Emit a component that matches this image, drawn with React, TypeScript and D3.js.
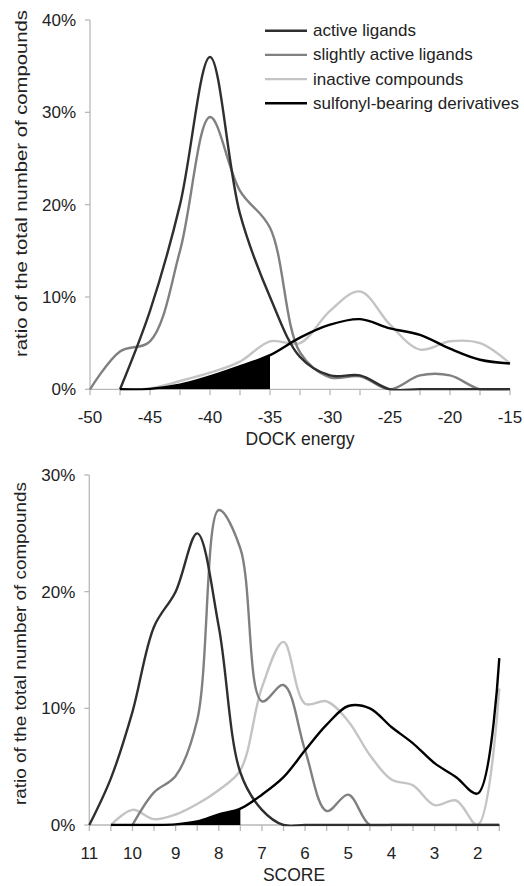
import React from 'react';
import * as d3 from 'd3';

// ---------- DATA ----------
const dockBins = [-50, -47.5, -45, -42.5, -40, -37.5, -35, -32.5, -30, -27.5, -25, -22.5, -20, -17.5, -15];
const dockActive = [null, 0, 8.5, 20, 36, 19, 10, 3.5, 1.5, 1.5, 0, 0, 0, 0, 0];
const dockSlightly = [0, 4.1, 5.2, 15, 29.5, 21.5, 17.5, 4, 1.3, 1.4, 0, 1.5, 1.5, 0, 0];
const dockInactive = [null, 0, 0.1, 0.9, 1.8, 3.0, 5.2, 5.0, 8.5, 10.6, 7.0, 4.3, 5.2, 5.0, 2.8];
const dockSulfonyl = [null, 0, 0.05, 0.5, 1.4, 2.5, 3.7, 5.6, 7.0, 7.6, 6.6, 5.9, 4.4, 3.2, 2.8];

const scoreBins = [11, 10.5, 10, 9.5, 9, 8.5, 8, 7.5, 7, 6.5, 6, 5.5, 5, 4.5, 4, 3.5, 3, 2.5, 2, 1.5];
const scoreActive = [0, 4.0, 9.7, 17, 20, 25, 17, 4.5, 1.3, 0, 0, 0, 0, 0, 0, 0, 0, 0, 0, 0];
const scoreSlightly = [null, null, 0, 2.8, 4.2, 9.0, 27, 23.7, 10.6, 12, 6.4, 1.2, 2.6, 0, 0, 0, 0, 0, 0, 0];
const scoreInactive = [null, 0, 1.3, 0.5, 0.9, 1.8, 3.0, 4.7, 11.8, 15.7, 10.4, 10.6, 8.9, 6.0, 3.9, 3.4, 1.7, 2.1, 0, 11.7];
const scoreSulfonyl = [null, 0, 0, 0, 0.05, 0.3, 0.9, 1.4, 2.6, 4.1, 6.4, 8.6, 10.2, 10.0, 8.4, 7.0, 5.3, 4.1, 2.7, 14.3];

const legendLabels = ['active ligands', 'slightly active ligands', 'inactive compounds', 'sulfonyl-bearing derivatives'];
const dockTickLabels = [-50, -45, -40, -35, -30, -25, -20, -15];
const scoreTickLabels = [11, 10, 9, 8, 7, 6, 5, 4, 3, 2];
const dockPctTicks = [0, 10, 20, 30, 40];
const scorePctTicks = [0, 10, 20, 30];
const dockFillLimit = -35;
const scoreFillLimit = 7.5;

const COLORS = ['#2f2f2f', '#808080', '#c4c4c4', '#000000'];
const FONT = '"Liberation Sans", Arial, Helvetica, sans-serif';
const TEXT = '#222';
const AXIS = '#b8b8b8';

type Pt = [number, number | null];

function Panel(props: {
  bins: number[];
  series: (number | null)[][];
  xDomain: [number, number];
  xRange: [number, number];
  yDomain: [number, number];
  yRange: [number, number];
  tickLabels: number[];
  minorStep: number;
  pctTicks: number[];
  fillLimit: number;
  xLabel: string;
  xLabelX: number;
  xLabelY: number;
  tickLabelY: number;
  titleX: number;
  titleCY: number;
  titleLen: number;
  id: string;
}) {
  const x = d3.scaleLinear().domain(props.xDomain).range(props.xRange);
  const y = d3.scaleLinear().domain(props.yDomain).range(props.yRange);
  const [d0, d1] = props.xDomain;
  const lo = Math.min(d0, d1), hi = Math.max(d0, d1);
  const minor = d3.range(lo, hi + props.minorStep / 2, props.minorStep);
  const curve = d3.curveCatmullRom.alpha(0.5);

  const line = d3
    .line<Pt>()
    .defined((d) => d[1] != null)
    .x((d) => x(d[0]))
    .y((d) => y(d[1] as number))
    .curve(curve);
  const area = d3
    .area<Pt>()
    .defined((d) => d[1] != null)
    .x((d) => x(d[0]))
    .y0(y(0))
    .y1((d) => y(d[1] as number))
    .curve(curve);

  const pts = props.series.map((s) => props.bins.map((b, i) => [b, s[i]] as Pt));
  const clipX0 = props.xRange[0];
  const clipX1 = x(props.fillLimit);
  const order = [2, 1, 0, 3];
  const y0 = y(0);

  return (
    <g>
      <defs>
        <clipPath id={`clip-${props.id}`}>
          <rect x={clipX0} y={0} width={clipX1 - clipX0} height={y0} />
        </clipPath>
        <clipPath id={`plot-${props.id}`}>
          <rect x={props.xRange[0] - 3} y={0} width={props.xRange[1] - props.xRange[0] + 6} height={y0 + 1.3} />
        </clipPath>
      </defs>
      {/* y axis */}
      <line x1={props.xRange[0]} x2={props.xRange[0]} y1={props.yRange[1]} y2={y0} stroke={AXIS} strokeWidth={1.3} />
      {props.pctTicks.map((t) => (
        <g key={`yt${t}`}>
          <line x1={props.xRange[0] - 5} x2={props.xRange[0]} y1={y(t)} y2={y(t)} stroke={AXIS} strokeWidth={1.3} />
          <text x={props.xRange[0] - 14} y={y(t) + 6} textAnchor="end" fontSize={17} fill={TEXT} fontFamily={FONT}>
            {`${t}%`}
          </text>
        </g>
      ))}
      {/* x axis */}
      <line x1={props.xRange[0]} x2={props.xRange[1]} y1={y0} y2={y0} stroke={AXIS} strokeWidth={1.3} />
      {minor.map((t) => (
        <line key={`xt${t}`} x1={x(t)} x2={x(t)} y1={y0} y2={y0 + 6} stroke={AXIS} strokeWidth={1.3} />
      ))}
      {props.tickLabels.map((t) => (
        <text key={`xl${t}`} x={x(t)} y={props.tickLabelY} textAnchor="middle" fontSize={17} fill={TEXT} fontFamily={FONT}>
          {t}
        </text>
      ))}
      <text x={props.xLabelX} y={props.xLabelY} textAnchor="middle" fontSize={17.5} fill={TEXT} fontFamily={FONT}>
        {props.xLabel}
      </text>
      <text
        transform={`translate(${props.titleX},${props.titleCY}) rotate(-90)`}
        textAnchor="middle"
        fontSize={17}
        fill={TEXT}
        fontFamily={FONT}
        textLength={props.titleLen}
        lengthAdjust="spacingAndGlyphs"
      >
        ratio of the total number of compounds
      </text>
      {/* fill */}
      <path d={area(pts[3]) || ''} fill="#000" clipPath={`url(#clip-${props.id})`} />
      <g clipPath={`url(#plot-${props.id})`}>
        {order.map((i) => (
          <path key={`s${i}`} d={line(pts[i]) || ''} fill="none" stroke={COLORS[i]} strokeWidth={2.4} strokeLinejoin="round" />
        ))}
      </g>
    </g>
  );
}

export default function App() {
  return (
    <svg width={524} height={886} style={{ position: 'absolute', left: 0, top: 0, background: '#fff' }}>
      <rect x={0} y={0} width={524} height={886} fill="#fff" />
      <Panel
        id="dock"
        bins={dockBins}
        series={[dockActive, dockSlightly, dockInactive, dockSulfonyl]}
        xDomain={[-50, -15]}
        xRange={[90, 510]}
        yDomain={[0, 40]}
        yRange={[389.3, 20]}
        tickLabels={dockTickLabels}
        minorStep={2.5}
        pctTicks={dockPctTicks}
        fillLimit={dockFillLimit}
        xLabel="DOCK energy"
        xLabelX={300}
        xLabelY={445}
        tickLabelY={423}
        titleX={27}
        titleCY={183.5}
        titleLen={347}
      />
      <Panel
        id="score"
        bins={scoreBins}
        series={[scoreActive, scoreSlightly, scoreInactive, scoreSulfonyl]}
        xDomain={[11, 1.5]}
        xRange={[89.3, 499.3]}
        yDomain={[0, 30]}
        yRange={[825, 475]}
        tickLabels={scoreTickLabels}
        minorStep={0.5}
        pctTicks={scorePctTicks}
        fillLimit={scoreFillLimit}
        xLabel="SCORE"
        xLabelX={294}
        xLabelY={881}
        tickLabelY={859}
        titleX={26}
        titleCY={643.5}
        titleLen={323}
      />
      {/* legend */}
      {legendLabels.map((l, i) => (
        <g key={l}>
          <line x1={265} x2={307} y1={30.7 + i * 24.2} y2={30.7 + i * 24.2} stroke={COLORS[i]} strokeWidth={2.4} />
          <text x={313} y={30.7 + i * 24.2 + 5.5} fontSize={17} fill={TEXT} fontFamily={FONT}>
            {l}
          </text>
        </g>
      ))}
    </svg>
  );
}
